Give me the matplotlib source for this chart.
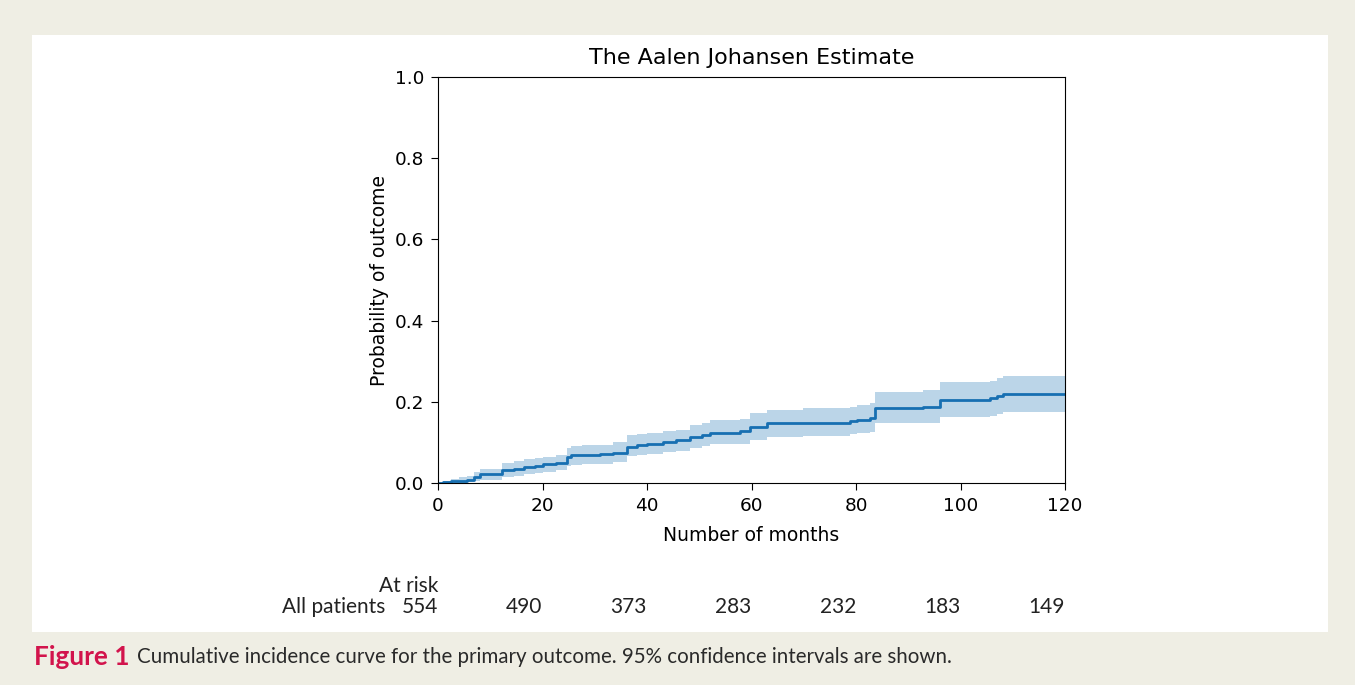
import numpy as np
import matplotlib.pyplot as plt
from matplotlib import transforms

# step times (months) and cumulative incidence with 95% CI
months = [0, 1.0, 2.5, 4.0, 5.5, 6.8, 8.0, 12.2, 14.5, 16.5, 18.5, 20.0, 22.5, 24.6,
          25.5, 27.5, 31.0, 33.5, 36.1, 38.0, 40.0, 43.0, 45.5, 48.2, 50.5, 52.0,
          57.8, 59.7, 62.9, 69.9, 78.9, 80.1, 82.7, 83.6, 92.9, 96.1, 105.6, 106.9,
          108.2, 120]
estimate = [0, 0.002, 0.004, 0.006, 0.008, 0.015, 0.021, 0.032, 0.035, 0.039, 0.043,
            0.046, 0.050, 0.063, 0.068, 0.070, 0.071, 0.075, 0.089, 0.093, 0.097,
            0.101, 0.105, 0.114, 0.118, 0.124, 0.127, 0.139, 0.147, 0.149, 0.153,
            0.156, 0.160, 0.184, 0.188, 0.204, 0.209, 0.214, 0.218, 0.218]
ci_lower = [0, 0, 0.000, 0.001, 0.002, 0.005, 0.008, 0.015, 0.018, 0.021, 0.025,
            0.028, 0.032, 0.042, 0.045, 0.047, 0.048, 0.052, 0.066, 0.069, 0.072,
            0.076, 0.079, 0.086, 0.090, 0.095, 0.097, 0.107, 0.114, 0.116, 0.120,
            0.122, 0.126, 0.147, 0.149, 0.163, 0.166, 0.170, 0.176, 0.176]
ci_upper = [0, 0.006, 0.010, 0.014, 0.018, 0.027, 0.034, 0.050, 0.054, 0.058, 0.062,
            0.065, 0.069, 0.086, 0.091, 0.093, 0.094, 0.101, 0.117, 0.120, 0.123,
            0.127, 0.131, 0.143, 0.147, 0.155, 0.158, 0.172, 0.181, 0.184, 0.188,
            0.192, 0.198, 0.225, 0.229, 0.248, 0.252, 0.258, 0.264, 0.264]

risk_ticks = [0, 20, 40, 60, 80, 100, 120]
at_risk = [554, 490, 373, 283, 232, 183, 149]

fig = plt.figure(figsize=(13.55, 6.85), dpi=100)
fig.patch.set_facecolor('#efeee4')

# white panel behind the chart
panel = plt.Rectangle((32 / 1355, 1 - 632 / 685), (1328 - 32) / 1355, (632 - 35) / 685,
                      transform=fig.transFigure, facecolor='white', edgecolor='none', zorder=-5)
fig.add_artist(panel)

ax = fig.add_axes([438 / 1355, 1 - 483 / 685, (1065 - 438) / 1355, (483 - 77) / 685])
ax.set_zorder(2)
ax.fill_between(months, ci_lower, ci_upper, step='post', color='#1f77b4', alpha=0.3, lw=0)
ax.plot(months, estimate, drawstyle='steps-post', color='#176fb2', lw=2)

ax.set_xlim(0, 120)
ax.set_ylim(0, 1.0)
ax.set_xticks(risk_ticks)
ax.set_yticks(np.arange(0, 1.01, 0.2))
ax.tick_params(labelsize=13.3, length=5, pad=5)
ax.set_title('The Aalen Johansen Estimate', fontsize=16, pad=9)
ax.set_xlabel('Number of months', fontsize=13.5, labelpad=8)
ax.set_ylabel('Probability of outcome', fontsize=13.5, labelpad=4)

# at-risk table
risk_font = ['Lato', 'DejaVu Sans']
trans = transforms.blended_transform_factory(ax.transData, fig.transFigure)
y_head = 1 - 586 / 685
y_row = 1 - 607 / 685
ax.text(0, y_head, 'At risk', transform=trans, ha='right', va='center',
        fontsize=15, family=risk_font, color='#222222', clip_on=False)
fig.text(385 / 1355, y_row, 'All patients', ha='right', va='center',
         fontsize=15, family=risk_font, color='#222222')
for t, n in zip(risk_ticks, at_risk):
    ax.text(t, y_row, str(n), transform=trans, ha='right', va='center',
            fontsize=15, family=risk_font, color='#222222', clip_on=False)

# caption
cap_y = 1 - 657 / 685
fig.text(34 / 1355, cap_y, 'Figure 1', ha='left', va='center', fontsize=18.8,
         fontweight='bold', family=risk_font, color='#d2144c')
fig.text(137 / 1355, cap_y,
         'Cumulative incidence curve for the primary outcome. 95% confidence intervals are shown.',
         ha='left', va='center', fontsize=14.8, family=risk_font, color='#2a2a2a')

fig.savefig('out.png', dpi=100, facecolor=fig.get_facecolor())
